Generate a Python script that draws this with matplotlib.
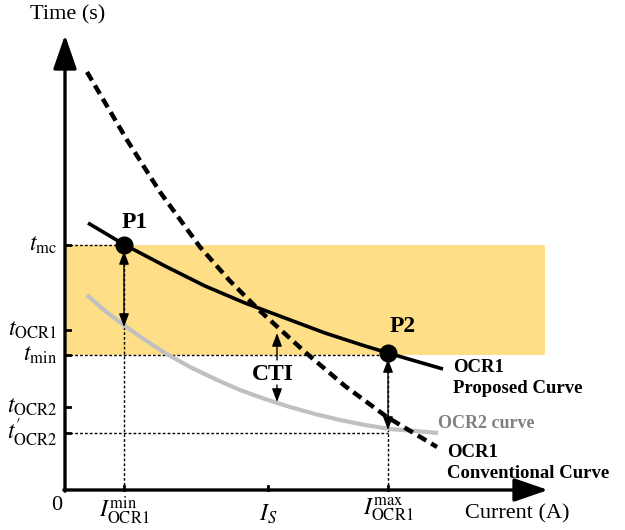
import matplotlib
matplotlib.use("Agg")
import matplotlib.pyplot as plt

plt.rcParams['font.family'] = ['Liberation Serif', 'DejaVu Serif']
plt.rcParams['mathtext.fontset'] = 'stix'

# schematic values (arbitrary units, origin at the axes corner)
prop_i = [23, 60, 100, 140, 180, 220, 260, 300, 340, 378]
prop_t = [267, 245, 224, 204, 187, 172, 157, 144, 132, 121]
conv_i = [22, 62, 95, 135, 165, 195, 240, 280, 322, 372]
conv_t = [418, 350, 298, 243, 209, 179, 138, 104, 73, 43]
ocr2_i = [22, 40, 60, 80, 100, 125, 150, 175, 200, 225, 250, 275, 300, 325, 350, 373]
ocr2_t = [195, 179, 164, 150, 137, 123, 111, 100, 91, 83, 76, 70, 65, 61, 59, 57]

t_ticks = [245, 160, 135, 83, 57]
t_labels = [r'$t_{\mathrm{mc}}$', r'$t_{\mathrm{OCR1}}$', r'$t_{\mathrm{min}}$',
            r'$t_{\mathrm{OCR2}}$', r"$t^{\prime}_{\mathrm{OCR2}}$"]
i_ticks = [59, 203, 323]
i_labels = [r'$I^{\mathrm{min}}_{\mathrm{OCR1}}$', r'$I_S$', r'$I^{\mathrm{max}}_{\mathrm{OCR1}}$']

t_mc, t_min, t_ocr2p = 245, 135, 57
p1 = (59, 245)
p2 = (323, 137)

fig = plt.figure(figsize=(6.25, 5.3), dpi=100)
ax = fig.add_axes([0, 0, 1, 1])
ax.set_xlim(-65, 560)
ax.set_ylim(-40, 490)
ax.axis('off')

# coordination band
ax.fill_between([0, 480], t_min, t_mc, color='#fedf88', lw=0, zorder=0)

# dotted guide lines
dot = dict(color='black', lw=1, ls=(0, (2, 1.5)), zorder=1)
ax.plot([0, p1[0]], [t_mc, t_mc], **dot)
ax.plot([0, p2[0]], [t_min, t_min], **dot)
ax.plot([0, p2[0]], [t_ocr2p, t_ocr2p], **dot)
ax.plot([p1[0], p1[0]], [0, t_mc], **dot)
ax.plot([p2[0], p2[0]], [0, p2[1]], **dot)

# curves
ax.plot(ocr2_i, ocr2_t, color='#c0c0c0', lw=3, zorder=2, solid_capstyle='butt',
        solid_joinstyle='round')
ax.plot(conv_i, conv_t, color='black', lw=3.2, ls=(0, (2.2, 1.3)), zorder=3)
ax.plot(prop_i, prop_t, color='black', lw=2.6, zorder=3, solid_capstyle='butt',
        solid_joinstyle='round')
ax.plot([p1[0], p2[0]], [p1[1], p2[1]], 'o', color='black', ms=12, zorder=5)

# axes with arrows
ahead = dict(arrowstyle='-|>,head_length=1.3,head_width=0.45', mutation_scale=16,
             lw=2.4, color='black', shrinkA=0, shrinkB=0)
ax.annotate('', xy=(483, 0), xytext=(-1.2, 0), arrowprops=ahead, zorder=4)
ax.annotate('', xy=(0, 455), xytext=(0, -1.2), arrowprops=ahead, zorder=4)

# ticks and labels
for t, lab in zip(t_ticks, t_labels):
    ax.plot([0, 5], [t, t], color='black', lw=2, zorder=4)
    ax.text(-8, t, lab, ha='right', va='center', fontsize=17)
for i, lab in zip(i_ticks, i_labels):
    ax.plot([i, i], [0, 4], color='black', lw=2, zorder=4)
    ax.text(i, -13 if lab == r'$I_S$' else -5, lab, ha='center', va='top', fontsize=17)
ax.text(-8, -15, '0', ha='center', va='center', fontsize=16)
ax.text(3, 475, 'Time (s)', ha='center', va='center', fontsize=16)
ax.text(452, -24, 'Current (A)', ha='center', va='center', fontsize=16)

# double arrows
darr = dict(arrowstyle='<|-|>,head_length=0.8,head_width=0.3', mutation_scale=10,
            lw=1, color='black', shrinkA=0, shrinkB=0)
ax.annotate('', xy=(p1[0], 239), xytext=(p1[0], 163), arrowprops=darr)
ax.annotate('', xy=(p2[0], 131), xytext=(p2[0], 60), arrowprops=darr)
sarr = dict(arrowstyle='-|>,head_length=0.8,head_width=0.3', mutation_scale=10,
            lw=1, color='black', shrinkA=0, shrinkB=0)
ax.annotate('', xy=(212, 157), xytext=(212, 130), arrowprops=sarr)
ax.annotate('', xy=(212, 88), xytext=(212, 105), arrowprops=sarr)
ax.text(208, 116, 'CTI', ha='center', va='center', fontsize=17, fontweight='bold')

ax.text(70, 267, 'P1', ha='center', va='center', fontsize=17, fontweight='bold')
ax.text(338, 164, 'P2', ha='center', va='center', fontsize=17, fontweight='bold')

ax.text(388, 112, 'OCR1\nProposed Curve', ha='left', va='center', fontsize=13.5,
        fontweight='bold', linespacing=1.3)
ax.text(373, 67, 'OCR2 curve', ha='left', va='center', fontsize=13,
        fontweight='bold', color='#808080')
ax.text(382, 27, 'OCR1\nConventional Curve', ha='left', va='center', fontsize=13.5,
        fontweight='bold', linespacing=1.3)

fig.savefig('out.png', dpi=100)
